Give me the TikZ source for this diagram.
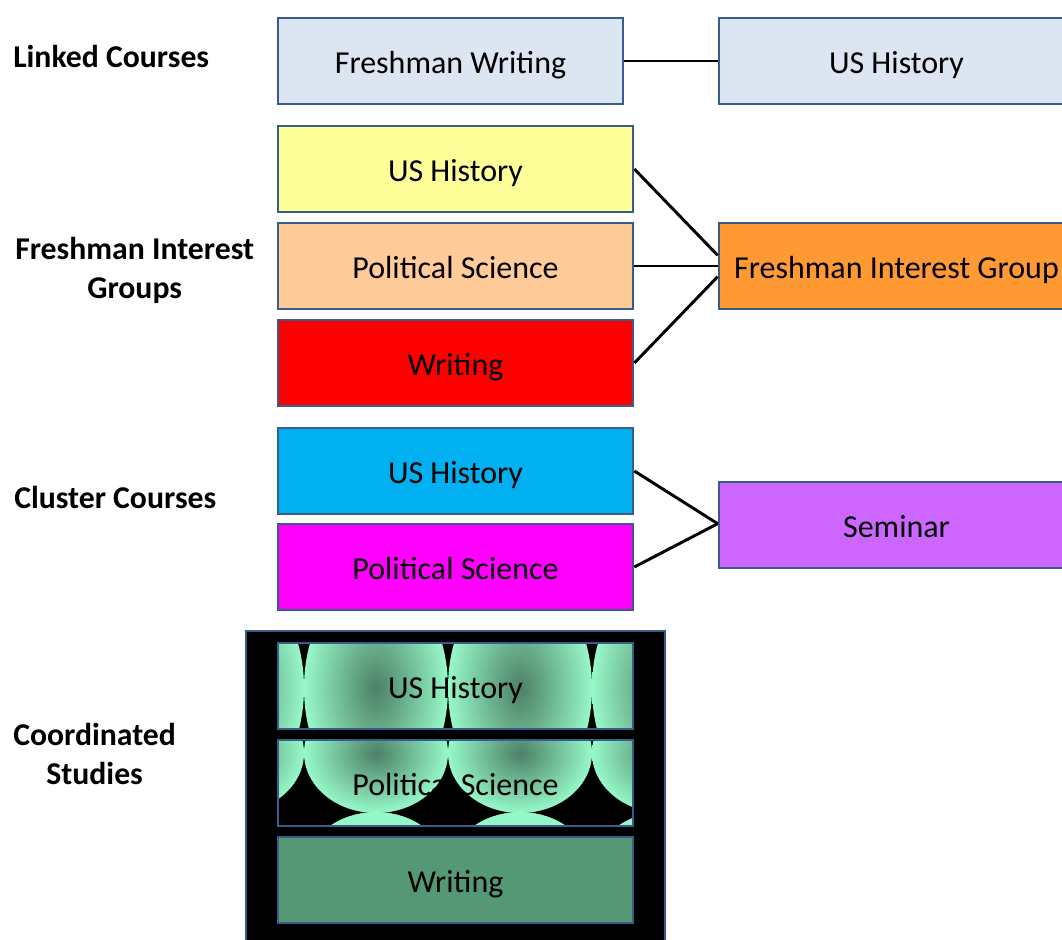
\documentclass[tikz,border=0pt]{standalone}
\usepackage{fontspec}
\setmainfont{Carlito}
\definecolor{edge}{RGB}{56,93,138}
\definecolor{paleblue}{RGB}{220,230,242}
\definecolor{paleyellow}{RGB}{255,255,153}
\definecolor{peach}{RGB}{255,204,153}
\definecolor{skyblue}{RGB}{0,176,240}
\definecolor{pink}{RGB}{255,0,255}
\definecolor{figorange}{RGB}{255,153,51}
\definecolor{lilac}{RGB}{204,102,255}
\definecolor{mint}{RGB}{150,248,200}
\definecolor{darkmint}{RGB}{76,128,102}
\definecolor{sage}{RGB}{84,152,118}

\begin{document}
\begin{tikzpicture}[x=0.75pt,y=-0.75pt,
    course/.style={draw=edge, line width=2pt, minimum width=266.25pt, minimum height=64.5pt,
        inner sep=0pt, text height=18pt, text depth=0pt, font=\fontsize{24}{28}\selectfont},
    wide/.style={course, minimum width=258.75pt},
    kind/.style={anchor=west, align=center, inner sep=0pt, font=\fontsize{23.8}{29.25}\selectfont\bfseries},
    link/.style={line width=2.2pt}]
    \useasboundingbox (0,0) rectangle (1062,939);

    % row labels
    \node[kind] (lc) at (13,56) {Linked Courses};
    \node[kind] (fi) at (15,270) {Freshman Interest\\Groups};
    \node[kind] (cc) at (14,497) {Cluster Courses};
    \node[kind] (cs) at (13,754) {Coordinated\\Studies};

    % linked courses
    \node[wide, fill=paleblue] (fw) at (450.5,61) {Freshman Writing};
    \node[course, fill=paleblue] (lhist) at (896.5,61) {US History};
    \draw[link] (fw.east) -- (lhist.west);

    % freshman interest groups
    \node[course, fill=paleyellow] (fy) at (455.5,169) {US History};
    \node[course, fill=peach] (fp) at (455.5,266) {Political Science};
    \node[course, fill=red] (fr) at (455.5,363) {Writing};
    \node[course, fill=figorange] (fig) at (896.5,266) {Freshman Interest Group};
    \draw[link] (fy.east) -- ([yshift=8pt]fig.west);
    \draw[link] (fp.east) -- (fig.west);
    \draw[link] (fr.east) -- ([yshift=-8pt]fig.west);

    % cluster courses
    \node[course, fill=skyblue] (cb) at (455.5,471) {US History};
    \node[course, fill=pink] (cm) at (455.5,567) {Political Science};
    \node[course, fill=lilac] (sem) at (896.5,525) {Seminar};
    \draw[link] (cb.east) -- ([yshift=1pt]sem.west);
    \draw[link] (cm.east) -- ([yshift=1pt]sem.west);

    % coordinated studies
    \draw[edge, line width=2pt, fill=black] (246,631) rectangle (665,960);
    \begin{scope}
        \clip (278,643) rectangle (633,729);
        \fill[black] (278,643) rectangle (633,729);
        \foreach \x in {232,376,520,664}
            \shade[inner color=darkmint, outer color=mint] (\x,688) ellipse [x radius=54pt, y radius=84pt];
    \end{scope}
    \begin{scope}
        \clip (278,740) rectangle (633,826);
        \fill[black] (278,740) rectangle (633,826);
        \foreach \x in {232,376,520,664} {
            \shade[inner color=darkmint, outer color=mint] (\x,753) ellipse [x radius=54pt, y radius=45pt];
            \fill[mint] (\x,872) ellipse [x radius=54pt, y radius=45pt];
        }
    \end{scope}
    \node[course] (cu) at (455.5,686) {US History};
    \node[course] (cp) at (455.5,783) {Political Science};
    \node[course, fill=sage] (cw) at (455.5,880) {Writing};
\end{tikzpicture}
\end{document}
